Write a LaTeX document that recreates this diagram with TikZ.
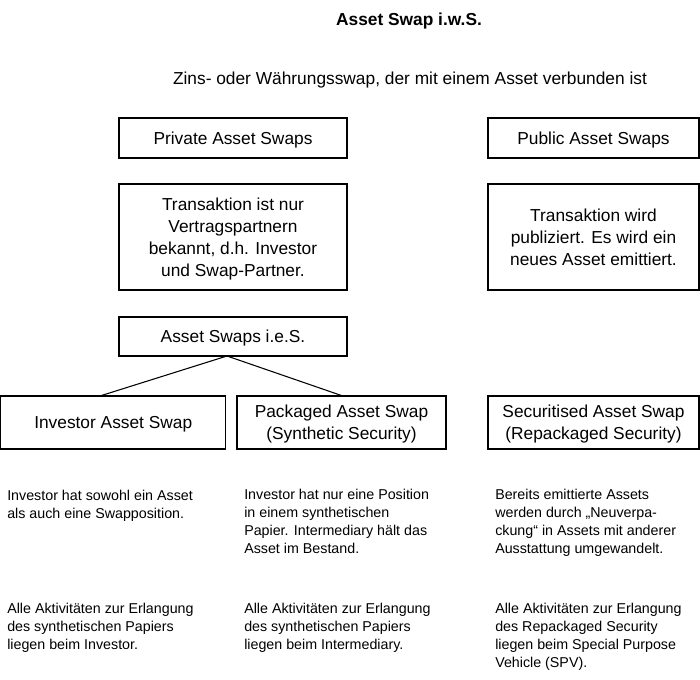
\documentclass[tikz,border=0pt]{standalone}
\usepackage{fontspec}
\setmainfont{Liberation Sans}
\usetikzlibrary{positioning}

\begin{document}
\begin{tikzpicture}[x=0.75pt,y=-0.75pt,
	box/.style={draw,line width=0.8pt,inner sep=0pt,outer sep=0pt,align=center,text depth=0pt,font=\fontsize{13}{16.5}\selectfont},
	note/.style={anchor=north west,inner sep=0pt,align=left,font=\fontsize{10.7}{13.5}\selectfont}]
	\useasboundingbox (0,0) rectangle (700,680);
	%% headings
	\node[font=\bfseries\fontsize{13}{16}\selectfont] (title) at (409,21.5) {Asset Swap i.w.S.};
	\node[font=\fontsize{13}{16}\selectfont] (def) at (410,80) {Zins- oder Währungsswap, der mit einem Asset verbunden ist};
	%% private / public
	\node[box,minimum width=171pt,minimum height=30pt] (priv) at (233,138) {Private Asset Swaps};
	\node[box,minimum width=158.25pt,minimum height=30pt] (pub) at (593.5,138) {Public Asset Swaps};
	\node[box,minimum width=171pt,minimum height=79.5pt] (privtxt) at (233,237) {Transaktion ist nur\\Vertragspartnern\\bekannt, d.h. Investor\\und Swap-Partner.};
	\node[box,minimum width=158.25pt,minimum height=79.5pt] (pubtxt) at (593.5,237) {Transaktion wird\\publiziert. Es wird ein\\neues Asset emittiert.};
	\node[box,minimum width=171pt,minimum height=29.25pt] (ies) at (233,336.5) {Asset Swaps i.e.S.};
	%% kinds of asset swaps
	\node[box,minimum width=169pt,minimum height=39.75pt] (inv) at (113.25,422.5) {Investor Asset Swap};
	\node[box,minimum width=156.75pt,minimum height=39.75pt] (pack) at (341.5,422.5) {Packaged Asset Swap\\(Synthetic Security)};
	\node[box,minimum width=158.25pt,minimum height=39.75pt] (sec) at (593.5,422.5) {Securitised Asset Swap\\(Repackaged Security)};
	%% edges
	\draw[line width=0.8pt] ([xshift=-4.5pt]ies.south) -- ([xshift=-10pt]inv.north);
	\draw[line width=0.8pt] ([xshift=-4.5pt]ies.south) -- ([xshift=1pt]pack.north);
	%% notes
	\node[note] (invnote) at (7,489.5) {Investor hat sowohl ein Asset\\als auch eine Swapposition.};
	\node[note] (packnote) at (244,489) {Investor hat nur eine Position\\in einem synthetischen\\Papier. Intermediary hält das\\Asset im Bestand.};
	\node[note] (secnote) at (495,489) {Bereits emittierte Assets\\werden durch „Neuverpa-\\ckung“ in Assets mit anderer\\Ausstattung umgewandelt.};
	\node[note] (invact) at (7,603) {Alle Aktivitäten zur Erlangung\\des synthetischen Papiers\\liegen beim Investor.};
	\node[note] (packact) at (244,603) {Alle Aktivitäten zur Erlangung\\des synthetischen Papiers\\liegen beim Intermediary.};
	\node[note] (secact) at (495,603) {Alle Aktivitäten zur Erlangung\\des Repackaged Security\\liegen beim Special Purpose\\Vehicle (SPV).};
\end{tikzpicture}
\end{document}
